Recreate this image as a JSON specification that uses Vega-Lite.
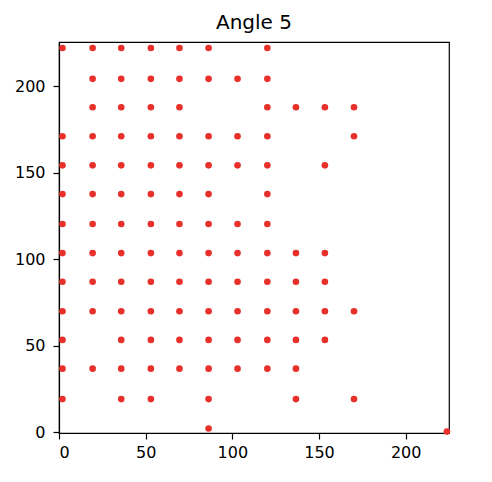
{
  "$schema": "https://vega.github.io/schema/vega-lite/v6.json",
  "autosize": {"type": "none"},
  "padding": {"left": 59, "top": 42, "right": 43, "bottom": 49},
  "width": 390,
  "height": 391,
  "title": {"text": "Angle 5", "font": "DejaVu Sans", "fontSize": 20, "fontWeight": "normal", "color": "#000000", "offset": 9},
  "config": {
    "view": {"stroke": "#000000", "strokeWidth": 1.2},
    "axis": {"grid": false, "domainColor": "#000000", "tickColor": "#000000", "tickSize": 6, "labelFont": "DejaVu Sans", "labelFontSize": 16, "labelColor": "#000000", "labelPadding": 5, "domainWidth": 1.2, "tickWidth": 1.2}
  },
  "data": {"values": [
    {"x": 2, "y": 222}, {"x": 19.4, "y": 222}, {"x": 35.9, "y": 222}, {"x": 53, "y": 222}, {"x": 69.5, "y": 222}, {"x": 86.3, "y": 222}, {"x": 120.2, "y": 222},
    {"x": 19.4, "y": 204.2}, {"x": 35.9, "y": 204.2}, {"x": 53, "y": 204.2}, {"x": 69.5, "y": 204.2}, {"x": 86.3, "y": 204.2}, {"x": 103, "y": 204.2}, {"x": 120.2, "y": 204.2},
    {"x": 19.4, "y": 187.8}, {"x": 35.9, "y": 187.8}, {"x": 53, "y": 187.8}, {"x": 69.5, "y": 187.8}, {"x": 120.2, "y": 187.8}, {"x": 136.7, "y": 187.8}, {"x": 153.4, "y": 187.8}, {"x": 170.2, "y": 187.8},
    {"x": 2, "y": 171}, {"x": 19.4, "y": 171}, {"x": 35.9, "y": 171}, {"x": 53, "y": 171}, {"x": 69.5, "y": 171}, {"x": 86.3, "y": 171}, {"x": 103, "y": 171}, {"x": 120.2, "y": 171}, {"x": 170.2, "y": 171},
    {"x": 2, "y": 154.2}, {"x": 19.4, "y": 154.2}, {"x": 35.9, "y": 154.2}, {"x": 53, "y": 154.2}, {"x": 69.5, "y": 154.2}, {"x": 86.3, "y": 154.2}, {"x": 103, "y": 154.2}, {"x": 120.2, "y": 154.2}, {"x": 153.4, "y": 154.2},
    {"x": 2, "y": 137.6}, {"x": 19.4, "y": 137.6}, {"x": 35.9, "y": 137.6}, {"x": 53, "y": 137.6}, {"x": 69.5, "y": 137.6}, {"x": 86.3, "y": 137.6}, {"x": 120.2, "y": 137.6},
    {"x": 2, "y": 120.3}, {"x": 19.4, "y": 120.3}, {"x": 35.9, "y": 120.3}, {"x": 53, "y": 120.3}, {"x": 69.5, "y": 120.3}, {"x": 86.3, "y": 120.3}, {"x": 103, "y": 120.3}, {"x": 120.2, "y": 120.3},
    {"x": 2, "y": 103.5}, {"x": 19.4, "y": 103.5}, {"x": 35.9, "y": 103.5}, {"x": 53, "y": 103.5}, {"x": 69.5, "y": 103.5}, {"x": 86.3, "y": 103.5}, {"x": 103, "y": 103.5}, {"x": 120.2, "y": 103.5}, {"x": 136.7, "y": 103.5}, {"x": 153.4, "y": 103.5},
    {"x": 2, "y": 86.9}, {"x": 19.4, "y": 86.9}, {"x": 35.9, "y": 86.9}, {"x": 53, "y": 86.9}, {"x": 69.5, "y": 86.9}, {"x": 86.3, "y": 86.9}, {"x": 103, "y": 86.9}, {"x": 120.2, "y": 86.9}, {"x": 136.7, "y": 86.9}, {"x": 153.4, "y": 86.9},
    {"x": 2, "y": 69.9}, {"x": 19.4, "y": 69.9}, {"x": 35.9, "y": 69.9}, {"x": 53, "y": 69.9}, {"x": 69.5, "y": 69.9}, {"x": 86.3, "y": 69.9}, {"x": 103, "y": 69.9}, {"x": 120.2, "y": 69.9}, {"x": 136.7, "y": 69.9}, {"x": 153.4, "y": 69.9}, {"x": 170.2, "y": 69.9},
    {"x": 2, "y": 53.3}, {"x": 35.9, "y": 53.3}, {"x": 53, "y": 53.3}, {"x": 69.5, "y": 53.3}, {"x": 86.3, "y": 53.3}, {"x": 103, "y": 53.3}, {"x": 120.2, "y": 53.3}, {"x": 136.7, "y": 53.3}, {"x": 153.4, "y": 53.3},
    {"x": 2, "y": 36.7}, {"x": 19.4, "y": 36.7}, {"x": 35.9, "y": 36.7}, {"x": 53, "y": 36.7}, {"x": 69.5, "y": 36.7}, {"x": 86.3, "y": 36.7}, {"x": 103, "y": 36.7}, {"x": 120.2, "y": 36.7}, {"x": 136.7, "y": 36.7},
    {"x": 2, "y": 19.1}, {"x": 35.9, "y": 19.1}, {"x": 53, "y": 19.1}, {"x": 86.3, "y": 19.1}, {"x": 136.7, "y": 19.1}, {"x": 170.2, "y": 19.1},
    {"x": 86.3, "y": 2.1},
    {"x": 223.8, "y": 0.3}
  ]},
  "mark": {"type": "point", "shape": "circle", "filled": true, "size": 44, "color": "#e8302a", "opacity": 1},
  "encoding": {
    "x": {"field": "x", "type": "quantitative", "scale": {"domain": [0, 225], "nice": false, "zero": false}, "axis": {"values": [0, 50, 100, 150, 200], "title": null}},
    "y": {"field": "y", "type": "quantitative", "scale": {"domain": [-0.5, 225.5], "nice": false, "zero": false}, "axis": {"values": [0, 50, 100, 150, 200], "title": null, "labelPadding": 8}}
  }
}
